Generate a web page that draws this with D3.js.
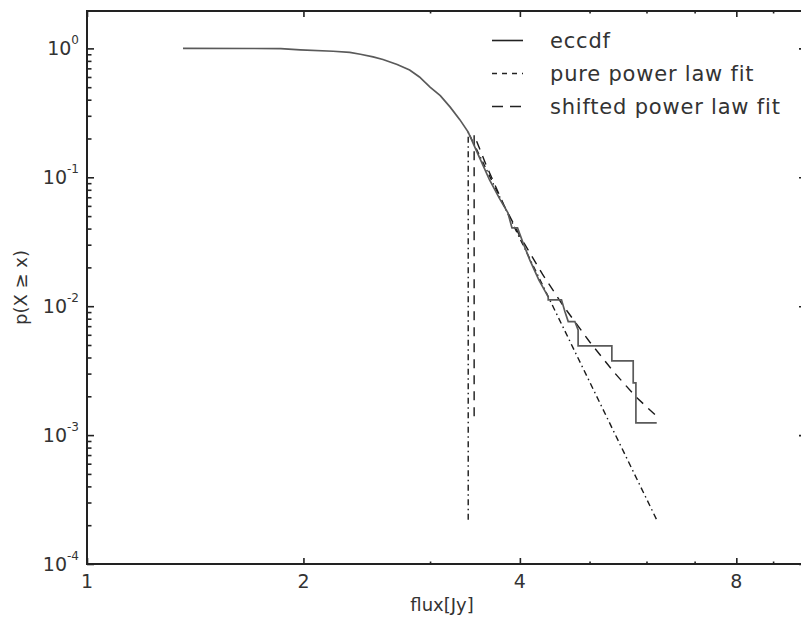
<!DOCTYPE html>
<html>
<head>
<meta charset="utf-8">
<script src="https://cdn.jsdelivr.net/npm/d3@7"></script>
<style>
  html, body { margin: 0; padding: 0; background: #fff; }
  svg { display: block; font-family: "DejaVu Sans", Verdana, sans-serif; }
</style>
</head>
<body>
<svg id="chart" width="801" height="620"></svg>
<script>
// ---- data ----
const eccdfFlux = [1.36, 1.86, 1.98, 2.2, 2.32, 2.4, 2.5, 2.58, 2.7, 2.81, 2.9, 3.0, 3.1, 3.2, 3.3, 3.39,
  3.5, 3.63, 3.75, 3.85, 3.90, 3.97, 4.05, 4.13, 4.25, 4.38, 4.38, 4.57, 4.62, 4.67, 4.77, 4.82, 4.82,
  5.37, 5.37, 5.75, 5.75, 5.80, 5.80, 6.20];
const eccdfP = [1.0, 0.997, 0.975, 0.95, 0.93, 0.90, 0.86, 0.82, 0.75, 0.68, 0.60, 0.50, 0.43, 0.35, 0.28, 0.224,
  0.15, 0.0953, 0.068, 0.0529, 0.0405, 0.0405, 0.030, 0.0228, 0.016, 0.0118, 0.0112, 0.0112, 0.00908, 0.0076, 0.0076, 0.00655, 0.00493,
  0.00493, 0.00377, 0.00377, 0.00254, 0.00254, 0.001245, 0.001245];

const pureFlux = [3.39, 3.39, 6.2];
const pureP = [0.00022, 0.224, 0.00022];

const shiftFlux = [3.455, 3.455, 3.6, 3.8, 4.0, 4.3, 4.6, 5.0, 5.4, 5.8, 6.2];
const shiftP = [0.0014, 0.213, 0.12, 0.061, 0.035, 0.0177, 0.0100, 0.0053, 0.0031, 0.00198, 0.0014];

const xMajorTicks = [1, 2, 4, 8];
const xMinorTicks = [3, 5, 6, 7, 9];
const yMajorExp = [0, -1, -2, -3, -4];
const legendLabels = ["eccdf", "pure power law fit", "shifted power law fit"];

// ---- layout ----
const svg = d3.select("#chart");
const L = 87, R = 806, T = 11, B = 564;
const x = d3.scaleLog().base(2).domain([1, 10]).range([L, R]);
const y = d3.scaleLog().domain([1e-4, 1.95]).range([B, T]);

const yMajor = yMajorExp.map(e => Math.pow(10, e));
const yMinor = [];
yMajorExp.slice(1).forEach(e => { for (let k = 2; k <= 9; k++) yMinor.push(k * Math.pow(10, e)); });

const frameColor = "#222";
function styleAxis(g) {
  g.select(".domain").remove();
  g.selectAll("line").attr("stroke", frameColor).attr("stroke-width", 1.6);
  g.selectAll("text").remove();
}
// left
svg.append("g").attr("transform", `translate(${L},0)`).call(d3.axisLeft(y).tickValues(yMajor).tickSize(-7)).call(styleAxis);
svg.append("g").attr("transform", `translate(${L},0)`).call(d3.axisLeft(y).tickValues(yMinor).tickSize(-4.5)).call(styleAxis);
// right
svg.append("g").attr("transform", `translate(${R},0)`).call(d3.axisRight(y).tickValues(yMajor).tickSize(-7)).call(styleAxis);
svg.append("g").attr("transform", `translate(${R},0)`).call(d3.axisRight(y).tickValues(yMinor).tickSize(-4.5)).call(styleAxis);
// bottom
svg.append("g").attr("transform", `translate(0,${B})`).call(d3.axisBottom(x).tickValues(xMajorTicks).tickSize(-6)).call(styleAxis);
svg.append("g").attr("transform", `translate(0,${B})`).call(d3.axisBottom(x).tickValues(xMinorTicks).tickSize(-2.5)).call(styleAxis);
// top
svg.append("g").attr("transform", `translate(0,${T})`).call(d3.axisTop(x).tickValues(xMajorTicks).tickSize(-6)).call(styleAxis);
svg.append("g").attr("transform", `translate(0,${T})`).call(d3.axisTop(x).tickValues(xMinorTicks).tickSize(-2.5)).call(styleAxis);

// frame
svg.append("rect").attr("x", L).attr("y", T).attr("width", R - L).attr("height", B - T)
  .attr("fill", "none").attr("stroke", frameColor).attr("stroke-width", 2);

// tick labels
const labelColor = "#333";
yMajorExp.forEach(e => {
  const t = svg.append("text").attr("x", 79).attr("y", y(Math.pow(10, e)) + 7)
    .attr("text-anchor", "end").attr("fill", labelColor).attr("font-size", 19);
  t.append("tspan").text("10");
  t.append("tspan").attr("dy", -11).attr("font-size", 12).text(e === 0 ? "0" : "-" + (-e));
});
xMajorTicks.forEach(v => {
  svg.append("text").attr("x", x(v)).attr("y", 588).attr("text-anchor", "middle")
    .attr("fill", labelColor).attr("font-size", 19).text(v);
});

// axis titles
svg.append("text").attr("x", (L + 797) / 2).attr("y", 611).attr("text-anchor", "middle")
  .attr("fill", labelColor).attr("font-size", 18).text("flux[Jy]");
svg.append("text").attr("transform", `translate(27,${(T + B) / 2}) rotate(-90)`)
  .attr("text-anchor", "middle").attr("fill", labelColor).attr("font-size", 18).text("p(X \u2265 x)");

// series
const line = d3.line().x(d => x(d[0])).y(d => y(d[1]));
const zip = (a, b) => a.map((v, i) => [v, b[i]]);

const styles = [
  { color: "#5a5a5a", width: 1.7, dash: null },
  { color: "#1a1a1a", width: 1.4, dash: "6,3.5,1.5,3.5" },
  { color: "#1a1a1a", width: 1.4, dash: "9,7" }
];

svg.append("path").datum(zip(pureFlux, pureP)).attr("d", line).attr("fill", "none")
  .attr("stroke", styles[1].color).attr("stroke-width", styles[1].width).attr("stroke-dasharray", styles[1].dash);
svg.append("path").datum(zip(shiftFlux, shiftP)).attr("d", line).attr("fill", "none")
  .attr("stroke", styles[2].color).attr("stroke-width", styles[2].width).attr("stroke-dasharray", styles[2].dash);
svg.append("path").datum(zip(eccdfFlux, eccdfP)).attr("d", line).attr("fill", "none")
  .attr("stroke", styles[0].color).attr("stroke-width", styles[0].width).attr("stroke-linejoin", "miter");

// legend
const legY = [40.5, 73.5, 106.5];
legendLabels.forEach((lab, i) => {
  const s = styles[i];
  svg.append("line").attr("x1", 492).attr("x2", 523).attr("y1", legY[i]).attr("y2", legY[i])
    .attr("stroke", "#222").attr("stroke-width", 1.6)
    .attr("stroke-dasharray", i === 1 ? "5,5" : (i === 2 ? "11,7" : null));
  svg.append("text").attr("x", 550).attr("y", legY[i] + 7).attr("fill", labelColor)
    .attr("font-size", 21).attr("letter-spacing", 0.8).text(lab);
});
</script>
</body>
</html>
